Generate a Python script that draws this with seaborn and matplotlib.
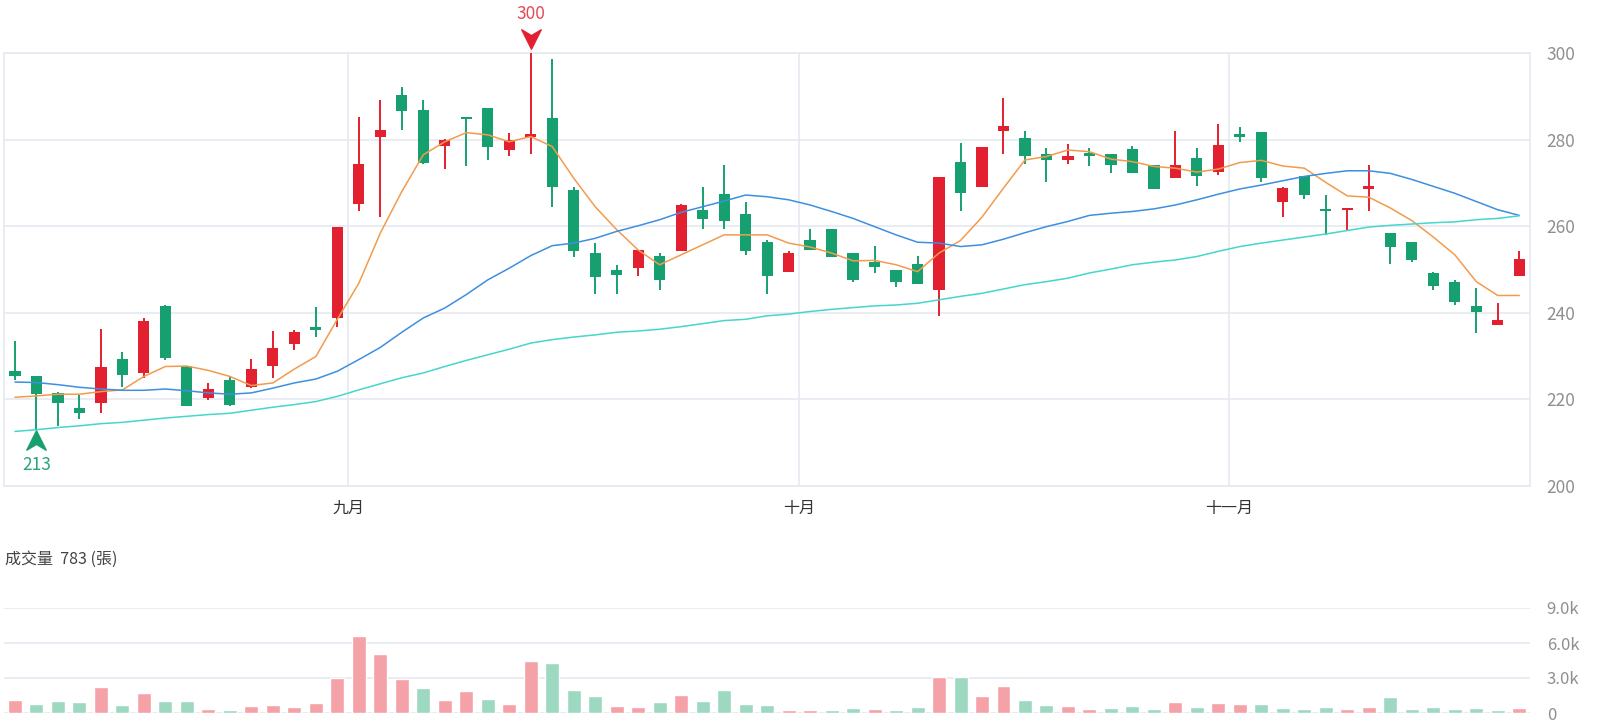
import numpy as np
import matplotlib
matplotlib.use("Agg")
import matplotlib.pyplot as plt
from matplotlib.path import Path
import seaborn as sns

# ---- data (71 trading days) ----
opens = [226.5, 225.5, 221.5, 218.0, 219.2, 229.4, 226.1, 241.6, 227.8, 220.3,
         224.5, 222.8, 227.8, 232.8, 236.8, 238.8, 265.2, 280.7, 290.2, 286.8,
         278.6, 285.2, 287.4, 277.6, 280.5, 284.9, 268.4, 253.8, 249.8, 250.3,
         253.2, 254.2, 263.8, 267.4, 262.8, 256.3, 249.5, 256.8, 259.3, 253.8,
         251.8, 249.8, 251.3, 245.2, 274.8, 269.0, 282.1, 280.3, 276.7, 275.2,
         276.8, 276.7, 277.8, 274.2, 271.1, 275.7, 272.6, 281.2, 281.7, 265.7,
         271.5, 263.9, 263.8, 268.5, 258.4, 256.3, 249.3, 247.2, 241.5, 237.2, 248.5]
closes = [225.3, 221.2, 219.2, 216.9, 227.4, 225.7, 238.0, 229.5, 218.4, 222.4,
          218.8, 227.0, 231.8, 235.5, 236.1, 259.8, 274.3, 282.2, 286.5, 274.5,
          279.8, 284.7, 278.2, 279.8, 281.2, 269.0, 254.2, 248.2, 248.8, 254.4,
          247.6, 264.9, 261.6, 261.2, 254.2, 248.6, 253.9, 254.5, 253.0, 247.6,
          250.5, 247.2, 246.6, 271.3, 267.6, 278.3, 283.2, 276.1, 275.2, 276.3,
          276.2, 274.2, 272.2, 268.6, 274.2, 271.6, 278.8, 280.7, 271.1, 268.8,
          267.1, 263.5, 264.2, 269.2, 255.2, 252.1, 246.2, 242.6, 240.2, 238.4, 252.4]
highs = [233.4, 225.5, 221.6, 221.1, 236.2, 230.9, 238.8, 241.8, 227.8, 223.8,
         225.5, 229.3, 235.7, 236.1, 241.3, 259.8, 285.2, 289.2, 292.1, 289.2,
         280.1, 285.2, 287.4, 281.6, 300.0, 298.5, 269.0, 256.1, 251.1, 254.4,
         253.8, 265.2, 269.0, 274.2, 265.7, 256.7, 254.2, 259.3, 259.3, 253.8,
         255.5, 249.8, 253.2, 271.3, 279.2, 278.3, 289.5, 282.1, 278.0, 279.0,
         278.0, 276.7, 278.6, 274.2, 282.1, 278.0, 283.6, 282.8, 281.7, 269.0,
         271.7, 267.2, 264.2, 274.2, 258.4, 256.3, 249.5, 247.6, 245.7, 242.2, 254.3]
lows = [224.5, 213.0, 213.8, 215.5, 216.8, 222.8, 224.9, 229.2, 218.4, 219.9,
        218.4, 222.6, 224.9, 231.5, 234.4, 236.8, 263.4, 262.2, 282.2, 274.4,
        273.2, 273.8, 275.2, 276.2, 276.7, 264.4, 252.8, 244.4, 244.4, 248.4,
        245.3, 254.2, 259.3, 259.3, 253.4, 244.4, 249.5, 254.5, 253.0, 247.2,
        249.2, 245.9, 246.6, 239.3, 263.6, 269.0, 276.7, 274.4, 270.3, 274.4,
        273.8, 272.2, 272.2, 268.6, 271.1, 269.2, 271.8, 279.4, 270.3, 262.2,
        266.2, 258.0, 258.8, 263.6, 251.2, 251.7, 245.2, 241.8, 235.3, 237.2, 248.4]

ma5 = [220.5, 220.8, 221.2, 221.2, 221.8, 222.2, 225.3, 227.6, 227.7, 226.7,
       225.3, 223.2, 223.8, 227.0, 229.9, 238.5, 246.8, 258.4, 268.0, 276.5,
       279.5, 281.6, 281.1, 279.5, 280.7, 278.4, 271.1, 264.5, 259.2, 254.5,
       251.1, 253.4, 255.7, 258.0, 258.0, 258.0, 256.1, 255.2, 253.8, 252.0,
       252.1, 251.1, 249.5, 253.8, 256.7, 262.1, 268.8, 275.3, 276.1, 277.6,
       277.2, 275.5, 274.9, 273.8, 273.4, 272.5, 273.2, 274.7, 275.2, 273.9,
       273.4, 270.1, 267.0, 266.7, 264.2, 261.3, 257.5, 253.4, 247.2, 244.0, 244.0]
ma20 = [224.0, 223.9, 223.4, 222.8, 222.4, 222.1, 222.1, 222.4, 222.0, 221.5,
        221.2, 221.5, 222.6, 223.8, 224.7, 226.5, 229.2, 232.0, 235.5, 238.8,
        241.1, 244.2, 247.6, 250.3, 253.2, 255.5, 256.1, 257.2, 258.8, 260.1,
        261.5, 263.2, 264.5, 265.8, 267.2, 266.8, 266.1, 264.9, 263.4, 261.8,
        259.9, 258.0, 256.3, 256.1, 255.3, 255.7, 257.0, 258.5, 259.9, 261.1,
        262.5, 263.0, 263.4, 264.0, 264.9, 266.1, 267.4, 268.6, 269.5, 270.5,
        271.5, 272.2, 272.8, 272.8, 272.2, 270.8, 269.2, 267.6, 265.7, 263.8, 262.5]
ma60 = [212.6, 213.0, 213.5, 213.9, 214.4, 214.7, 215.2, 215.7, 216.1, 216.5,
        216.8, 217.5, 218.2, 218.8, 219.5, 220.7, 222.2, 223.6, 225.0, 226.1,
        227.6, 229.0, 230.3, 231.6, 233.0, 233.8, 234.4, 234.9, 235.5, 235.8,
        236.2, 236.8, 237.5, 238.2, 238.5, 239.3, 239.7, 240.3, 240.8, 241.2,
        241.6, 241.8, 242.2, 243.0, 243.8, 244.5, 245.5, 246.5, 247.2, 248.0,
        249.2, 250.1, 251.1, 251.7, 252.2, 253.0, 254.2, 255.3, 256.1, 256.8,
        257.5, 258.2, 259.0, 259.8, 260.2, 260.5, 260.8, 261.0, 261.5, 261.8, 262.4]

volume = [1090, 800, 1030, 940, 2230, 660, 1740, 1030, 1030, 370,
          230, 600, 660, 510, 890, 3000, 6570, 5090, 2940, 2140,
          1140, 1890, 1200, 740, 4460, 4310, 2000, 1460, 600, 510,
          910, 1510, 1060, 1940, 770, 660, 260, 290, 230, 400,
          370, 230, 510, 3090, 3090, 1460, 2290, 1090, 710, 600,
          370, 430, 570, 310, 940, 540, 830, 740, 800, 400,
          310, 540, 310, 540, 1370, 340, 510, 370, 430, 260, 400]
# 1 = up day (red), 0 = down day (green)
vol_up = [1, 0, 0, 0, 1, 0, 1, 0, 0, 1,
          0, 1, 1, 1, 1, 1, 1, 1, 1, 0,
          1, 1, 0, 1, 1, 0, 0, 0, 1, 1,
          0, 1, 0, 0, 0, 0, 1, 1, 0, 0,
          1, 0, 0, 1, 0, 1, 1, 0, 0, 1,
          1, 0, 0, 0, 1, 0, 1, 1, 0, 0,
          0, 0, 1, 1, 0, 0, 0, 0, 0, 0, 1]

month_pos = [15.5, 36.5, 56.5]
month_labels = ["九月", "十月", "十一月"]
price_ticks = [200, 220, 240, 260, 280, 300]
vol_ticks = [0, 3000, 6000, 9000]
vol_tick_labels = ["0", "3.0k", "6.0k", "9.0k"]
high_mark = (24, 300)
low_mark = (1, 213)

# ---- style ----
RED = "#e3202f"
GREEN = "#17a06f"
RED_L = "#f4a2a7"
GREEN_L = "#9dd8c1"
GRID = "#e6e9f2"
TXT = "#8f8f8f"

sns.set_theme(style="white")
plt.rcParams["font.family"] = ["Noto Sans CJK TC", "DejaVu Sans"]

fig = plt.figure(figsize=(16, 7.22), dpi=100)
ax = fig.add_axes([4 / 1600, 236 / 722, 1526 / 1600, 433 / 722])
axv = fig.add_axes([4 / 1600, 9 / 722, 1526 / 1600, 105 / 722])

idx = np.arange(len(opens))
o = np.array(opens)
c = np.array(closes)
up = c >= o
colors = np.where(up, RED, GREEN)

# candles
ax.vlines(idx, lows, highs, colors=colors, linewidth=1.4, zorder=3)
body_low = np.minimum(o, c)
body_h = np.maximum(np.abs(c - o), 0.35)
ax.bar(idx, body_h, bottom=body_low, width=0.52, color=colors, linewidth=0, zorder=4)

# moving averages
sns.lineplot(x=idx, y=ma5, color="#f39b4c", linewidth=1.1, ax=ax, zorder=5)
sns.lineplot(x=idx, y=ma20, color="#3d8fe0", linewidth=1.1, ax=ax, zorder=5)
sns.lineplot(x=idx, y=ma60, color="#45d6cc", linewidth=1.1, ax=ax, zorder=5)

ax.set_xlim(-0.51, 70.5)
ax.set_ylim(200, 300)
ax.set_yticks(price_ticks)
ax.yaxis.tick_right()
ax.tick_params(axis="y", length=0, pad=12, labelsize=12.5, labelcolor=TXT)
ax.set_xticks(month_pos)
ax.set_xticklabels(month_labels)
ax.tick_params(axis="x", length=0, pad=10, labelsize=11.5, labelcolor="#333333")
ax.grid(True, color=GRID, linewidth=1.2)
ax.set_axisbelow(True)
for s in ax.spines.values():
    s.set_color(GRID)
    s.set_linewidth(1.2)
ax.set_xlabel("")
ax.set_ylabel("")

# high / low markers
chev_up = Path([(0, 0.5), (0.5, -0.5), (0, -0.2), (-0.5, -0.5), (0, 0.5)],
               [Path.MOVETO, Path.LINETO, Path.LINETO, Path.LINETO, Path.CLOSEPOLY])
chev_dn = Path([(0, -0.5), (0.5, 0.5), (0, 0.2), (-0.5, 0.5), (0, -0.5)],
               [Path.MOVETO, Path.LINETO, Path.LINETO, Path.LINETO, Path.CLOSEPOLY])
ax.plot(high_mark[0], 303.2, marker=chev_dn, markersize=14, color=RED,
        linestyle="none", clip_on=False, zorder=6)
ax.text(high_mark[0], 309.0, str(high_mark[1]), color="#e34a55", fontsize=12.5,
        ha="center", va="center", clip_on=False)
ax.plot(low_mark[0], 210.6, marker=chev_up, markersize=14, color=GREEN,
        linestyle="none", clip_on=False, zorder=6)
ax.text(low_mark[0], 204.9, str(low_mark[1]), color="#2aa577", fontsize=12.5,
        ha="center", va="center", clip_on=False)

# volume
vol_dir = ["up" if v else "down" for v in vol_up]
sns.barplot(x=idx, y=volume, hue=vol_dir, palette={"up": RED_L, "down": GREEN_L},
            dodge=False, width=0.65, native_scale=True, legend=False,
            errorbar=None, saturation=1, ax=axv, zorder=3)
axv.set_xlim(-0.51, 70.5)
axv.set_ylim(0, 9000)
axv.set_yticks(vol_ticks)
axv.set_yticklabels(vol_tick_labels)
axv.yaxis.tick_right()
axv.tick_params(axis="y", length=0, pad=12, labelsize=12, labelcolor=TXT)
axv.set_xticks([])
axv.grid(True, axis="y", color=GRID, linewidth=1.2)
axv.set_axisbelow(True)
for s in axv.spines.values():
    s.set_visible(False)
axv.set_xlabel("")
axv.set_ylabel("")

fig.text(5 / 1600, 1 - 559 / 722, "成交量  783 (張)", fontsize=11.5,
         color="#444444", ha="left", va="center")

fig.savefig("out.png", dpi=100)
